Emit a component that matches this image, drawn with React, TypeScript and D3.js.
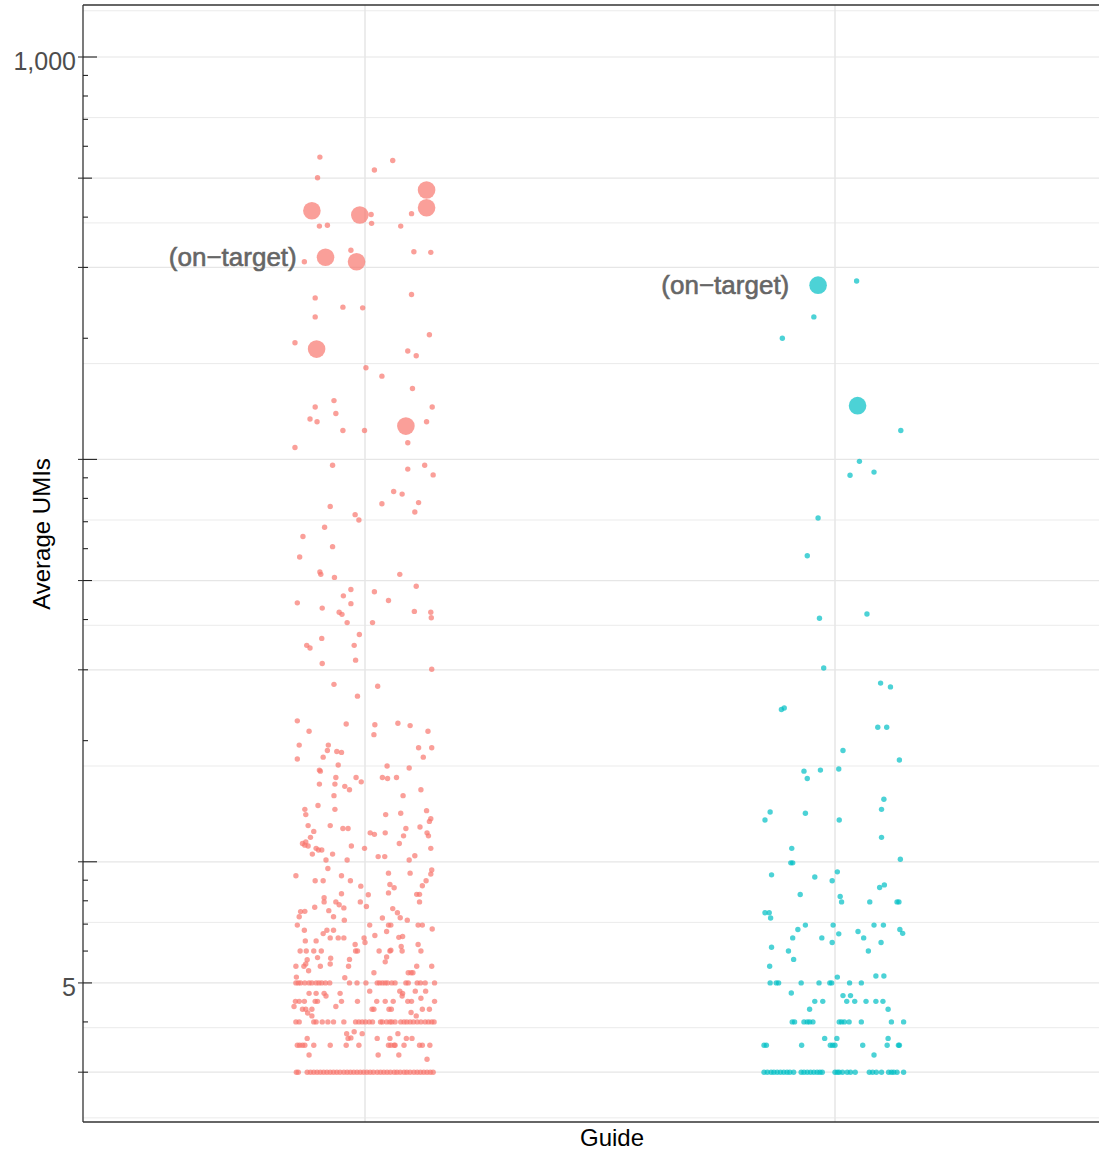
import React from "react";
import * as d3 from "d3";

// ---------- data ----------
const groupColors = ["#F8766D", "#00BFC4"];

const majorBreaks = [3, 5, 10, 30, 50, 100, 300, 500, 1000];
const minorBreaks = [1303, 707, 387, 173, 70.7, 38.7, 17.3, 7.07, 3.87, 2.31];
const labeledTicks = [1000, 5];
const labeledTickText = ["1,000", "5"];
const logTicksLong = [10, 100, 1000];
const logTicksMid = [5, 50, 500];
const logTicksShort = [3, 4, 6, 7, 8, 9, 20, 30, 40, 60, 70, 80, 90, 200, 300, 400, 600, 700, 800, 900];

// [jitter, average UMIs]
const redScatter: [number, number][] = [
  [-0.096, 564], [0.059, 553], [0.020, 524], [-0.101, 501], [0.013, 406], [0.099, 408], [-0.097, 380], [-0.080, 382],
  [0.014, 386], [0.076, 380], [-0.030, 331], [-0.129, 310], [0.104, 328], [0.140, 327], [0.099, 257], [-0.106, 252],
  [-0.047, 239], [-0.005, 238], [-0.106, 226], [0.137, 204], [-0.149, 195], [0.091, 186], [0.109, 181], [0.002, 169],
  [0.036, 161], [0.101, 150], [-0.066, 140], [0.143, 135], [-0.106, 135], [-0.062, 130], [-0.117, 126], [-0.102, 124],
  [0.131, 124], [-0.047, 118], [-0.001, 118], [0.091, 110], [-0.149, 107],
  [-0.069, 96.7], [0.091, 94.6], [0.127, 96.7], [0.145, 91.5], [0.061, 83.2], [0.079, 82.0], [-0.074, 76.4], [0.036, 77.6],
  [0.114, 78.1], [0.106, 74.0], [-0.021, 72.9], [-0.013, 70.7], [-0.086, 67.8], [-0.132, 64.3], [-0.069, 60.7], [-0.139, 57.2],
  [-0.096, 52.5], [-0.094, 51.8], [-0.065, 50.9], [0.074, 51.8], [-0.030, 47.5], [0.020, 46.9], [0.109, 48.4], [-0.046, 45.8],
  [-0.144, 44.0], [-0.030, 43.8], [0.050, 44.6], [-0.091, 42.7], [-0.055, 41.7], [-0.049, 41.2], [0.105, 41.9], [0.140, 41.7],
  [0.141, 40.4], [-0.038, 39.3], [0.016, 39.3], [-0.012, 36.7], [-0.092, 35.9], [-0.124, 34.5], [-0.117, 34.0], [-0.023, 34.5],
  [-0.020, 31.7], [-0.091, 31.1], [0.142, 30.1], [-0.066, 27.6], [0.027, 27.3], [-0.016, 25.8], [-0.144, 22.4], [-0.040, 22.0],
  [0.021, 21.9], [0.070, 22.1], [0.096, 21.8], [-0.119, 21.1], [0.019, 20.7], [0.134, 21.1], [-0.140, 19.5], [-0.078, 19.5],
  [-0.080, 18.9], [-0.060, 18.8], [-0.050, 18.7], [0.114, 19.2], [0.142, 19.2], [-0.089, 18.2], [-0.144, 18.0], [0.124, 18.2],
  [-0.057, 17.4], [0.047, 17.3], [0.094, 17.1], [-0.097, 16.9], [-0.095, 16.8], [-0.062, 16.2], [-0.019, 16.2], [-0.008, 15.8],
  [0.037, 16.2], [0.048, 16.1], [0.067, 16.2], [-0.097, 15.6], [-0.064, 15.6], [-0.043, 15.4], [-0.033, 15.1], [0.119, 15.1],
  [-0.066, 14.6], [0.081, 14.6], [-0.100, 13.8], [-0.128, 13.5], [-0.126, 13.1], [-0.064, 13.5], [0.044, 13.1], [0.076, 13.2],
  [0.131, 13.4], [0.140, 12.8], [0.137, 12.6], [-0.121, 12.3], [-0.074, 12.3], [-0.047, 12.1], [-0.036, 12.1], [0.117, 12.2],
  [-0.109, 11.9], [0.087, 12.1], [0.011, 11.8], [0.020, 11.7], [0.043, 11.8], [0.132, 11.8], [0.135, 11.6], [0.082, 11.6],
  [-0.116, 11.5], [-0.133, 11.1], [-0.126, 11.2], [-0.128, 11.0], [-0.121, 10.95], [0.073, 11.1], [-0.029, 10.95], [-0.104, 10.8],
  [-0.099, 10.7], [-0.092, 10.7], [-0.001, 10.8], [0.140, 10.8], [-0.112, 10.45], [-0.069, 10.45], [0.028, 10.3], [0.042, 10.3],
  [0.106, 10.35], [-0.083, 10.1], [-0.038, 10.1], [0.094, 10.1],
  [-0.079, 9.62], [0.142, 9.54], [0.140, 9.32], [0.050, 9.37], [0.096, 9.37], [-0.147, 9.23], [-0.050, 9.23], [-0.106, 8.97],
  [-0.089, 8.97], [-0.031, 8.97], [0.130, 8.97], [0.053, 8.78], [0.062, 8.62], [0.122, 8.72], [-0.009, 8.70], [-0.050, 8.33],
  [0.007, 8.28], [0.050, 8.37], [0.110, 8.30], [0.116, 8.30], [-0.087, 8.14], [-0.087, 7.95], [-0.062, 7.95], [-0.055, 7.82],
  [-0.045, 7.68], [-0.010, 7.95], [0.116, 7.95], [0.003, 7.74], [-0.107, 7.71], [0.059, 7.65], [0.069, 7.47], [0.075, 7.26],
  [-0.137, 7.52], [-0.128, 7.53], [-0.077, 7.56], [-0.067, 7.30], [-0.140, 7.30], [0.037, 7.25], [-0.044, 7.16], [0.090, 7.16],
  [-0.144, 6.96], [0.010, 6.96], [0.050, 6.96], [0.055, 6.96], [0.113, 6.96], [0.122, 6.96], [0.143, 6.81], [-0.129, 6.76],
  [-0.081, 6.76], [-0.089, 6.63], [-0.067, 6.76], [0.046, 6.71], [0.021, 6.56], [0.072, 6.49], [0.080, 6.52], [-0.074, 6.47],
  [-0.057, 6.47], [-0.045, 6.47], [-0.002, 6.47], [0.000, 6.30], [-0.127, 6.36], [-0.104, 6.36], [-0.021, 6.23], [0.113, 6.23],
  [0.077, 6.16], [0.079, 6.0], [-0.016, 6], [-0.020, 6], [-0.138, 6], [-0.125, 6], [-0.109, 6], [-0.093, 6],
  [0.030, 6], [0.053, 6], [0.055, 6.03], [0.119, 6], [-0.101, 5.78], [-0.073, 5.76], [-0.033, 5.72], [0.046, 5.80],
  [-0.123, 5.71], [0.043, 5.64], [-0.074, 5.57], [-0.126, 5.57], [-0.130, 5.5], [-0.120, 5.36], [-0.147, 5.5], [-0.095, 5.5],
  [-0.035, 5.5], [0.110, 5.5], [0.142, 5.5], [0.092, 5.3], [0.102, 5.3], [0.098, 5.3], [0.019, 5.3], [-0.146, 5.17],
  [-0.043, 5.15],
  [0.010, 4.77], [-0.119, 4.71], [-0.104, 4.71], [-0.087, 4.71], [-0.083, 4.64], [-0.053, 4.71], [0.074, 4.77], [0.079, 4.64],
  [0.080, 4.71], [0.107, 4.77], [0.129, 4.77], [0.119, 4.58], [-0.151, 4.37], [-0.133, 4.30], [-0.126, 4.30], [-0.113, 4.30],
  [-0.062, 4.37], [0.015, 4.30], [0.019, 4.30], [0.051, 4.30], [0.056, 4.30], [0.098, 4.22], [0.122, 4.30], [0.137, 4.30],
  [-0.122, 4.21], [-0.113, 4.14], [0.109, 4.14], [-0.023, 3.78], [-0.039, 3.74], [-0.036, 3.64], [-0.030, 3.65], [-0.006, 3.74],
  [-0.123, 3.64], [0.026, 3.64], [0.053, 3.64], [0.070, 3.74], [0.088, 3.64], [0.100, 3.64], [-0.119, 3.31], [0.028, 3.31],
  [0.072, 3.31], [0.132, 3.23],
];

// rows of points sharing the same average value: [value, jitters]
const redRows: [number, number[]][] = [
  [5, [-0.147, -0.142, -0.137, -0.128, -0.119, -0.113, -0.104, -0.098, -0.092, -0.084, -0.075, -0.033, -0.017, 0.002, 0.026, 0.031, 0.037, 0.043, 0.048, 0.057, 0.064, 0.087, 0.092, 0.111, 0.118, 0.128, 0.148]],
  [4.5, [-0.148, -0.140, -0.129, -0.106, -0.101, -0.050, -0.016, 0.025, 0.043, 0.060, 0.091, 0.099, 0.148]],
  [4, [-0.147, -0.140, -0.109, -0.104, -0.091, -0.079, -0.067, -0.045, -0.020, -0.013, -0.006, 0.001, 0.009, 0.016, 0.033, 0.037, 0.046, 0.053, 0.057, 0.064, 0.076, 0.083, 0.089, 0.096, 0.103, 0.111, 0.119, 0.128, 0.135, 0.142, 0.147]],
  [3.5, [-0.144, -0.139, -0.133, -0.128, -0.109, -0.074, -0.040, -0.013, 0.050, 0.055, 0.062, 0.064, 0.083, 0.116, 0.122, 0.138]],
  [3, [-0.146, -0.142, -0.123, -0.116, -0.109, -0.102, -0.095, -0.088, -0.081, -0.074, -0.067, -0.060, -0.053, -0.045, -0.038, -0.031, -0.024, -0.017, -0.010, -0.003, 0.004, 0.011, 0.018, 0.026, 0.033, 0.040, 0.047, 0.054, 0.062, 0.068, 0.075, 0.083, 0.089, 0.096, 0.104, 0.111, 0.118, 0.125, 0.132, 0.139, 0.145]],
];

const redBig: [number, number][] = [
  [0.131, 467], [-0.113, 415], [0.131, 422], [-0.011, 405], [-0.084, 318], [-0.018, 310], [-0.103, 188], [0.087, 121],
];

const tealScatter: [number, number][] = [
  [0.046, 277.5], [-0.045, 226], [-0.112, 200], [0.140, 118], [0.052, 98.9], [0.032, 91.3], [0.083, 93.0], [-0.036, 71.5],
  [-0.059, 57.6], [0.068, 41.3], [-0.033, 40.3], [-0.024, 30.3], [0.097, 27.8], [0.118, 27.2], [-0.114, 23.9], [-0.108, 24.1],
  [0.091, 21.6], [0.110, 21.6], [0.017, 18.9], [0.137, 17.9], [-0.066, 16.8], [-0.059, 16.1], [-0.031, 16.9], [0.008, 17.0],
  [0.104, 14.3], [0.099, 13.5], [-0.138, 13.3], [-0.149, 12.7], [-0.063, 13.2], [0.009, 12.7], [0.099, 11.5], [-0.092, 10.8],
  [-0.094, 9.94], [-0.090, 9.94], [0.139, 10.15], [-0.135, 9.28], [-0.043, 9.17], [0.005, 9.44], [-0.006, 8.97], [-0.074, 8.29],
  [0.011, 8.20], [0.014, 7.95], [0.074, 7.95], [0.095, 8.63], [0.105, 8.76], [0.132, 7.95], [0.136, 7.95], [-0.149, 7.47],
  [-0.140, 7.47], [-0.137, 7.25], [-0.079, 6.79], [-0.063, 6.96], [-0.004, 6.96], [-0.090, 6.47], [-0.028, 6.47], [0.008, 6.62],
  [0.049, 6.71], [0.061, 6.47], [0.083, 6.96], [0.103, 6.96], [0.138, 6.79], [0.144, 6.64], [-0.006, 6.30], [0.098, 6.30],
  [-0.135, 6.13], [-0.099, 6.0], [-0.088, 5.72], [0.071, 6.0], [-0.139, 5.5], [0.005, 5.17], [0.087, 5.2], [0.104, 5.2],
  [-0.093, 4.72], [0.017, 4.65], [0.033, 4.65], [-0.054, 4.30], [0.113, 4.30], [-0.022, 3.64], [0.004, 3.64], [0.113, 3.64],
  [0.083, 3.31],
];

const tealRows: [number, number[]][] = [
  [5, [-0.138, -0.125, -0.120, -0.072, -0.034, -0.011, -0.007, 0.031, 0.056]],
  [4.5, [-0.043, -0.026, 0.025, 0.042, 0.066, 0.087, 0.102]],
  [4, [-0.091, -0.086, -0.066, -0.059, -0.054, -0.047, 0.009, 0.014, 0.020, 0.030, 0.056, 0.120, 0.146]],
  [3.5, [-0.151, -0.146, -0.071, -0.010, -0.005, 0.000, 0.059, 0.111, 0.135, 0.137]],
  [3, [-0.151, -0.144, -0.136, -0.130, -0.123, -0.116, -0.109, -0.102, -0.096, -0.088, -0.072, -0.066, -0.059, -0.052, -0.045, -0.038, -0.032, -0.027, 0.000, 0.005, 0.009, 0.016, 0.026, 0.033, 0.043, 0.073, 0.080, 0.088, 0.099, 0.114, 0.120, 0.125, 0.132, 0.146]],
];

const tealBig: [number, number][] = [
  [-0.036, 271], [0.048, 136],
];

// label attached to a big point: [group index, index in big array]
const onTargetLabels: [number, number][] = [[0, 4], [1, 0]];
const onTargetText = "(on\u2212target)";

const xTitle = "Guide";
const yTitle = "Average UMIs";

// ---------- layout ----------
const W = 1099;
const H = 1150;
const panel = { left: 83, right: 1117, top: 5, bottom: 1122 };
const FONT = "'Liberation Sans', Arial, Helvetica, sans-serif";

export default function App() {
  const x = d3.scaleLinear().domain([0.4, 2.6]).range([panel.left, panel.right]);
  const y = d3.scaleLog().domain([2.256, 1346.6]).range([panel.bottom, panel.top]);

  const groups = [
    { idx: 1, color: groupColors[0], scatter: redScatter, rows: redRows, big: redBig },
    { idx: 2, color: groupColors[1], scatter: tealScatter, rows: tealRows, big: tealBig },
  ];

  const smallR = 2.7;
  const bigR = 8.8;
  const alpha = 0.7;

  return (
    <svg width={W} height={H} style={{ position: "absolute", left: 0, top: 0, background: "#fff" }} fontFamily={FONT}>
      <defs>
        <clipPath id="panelClip">
          <rect x={panel.left} y={panel.top} width={panel.right - panel.left} height={panel.bottom - panel.top} />
        </clipPath>
      </defs>
      <rect x={0} y={0} width={W} height={H} fill="#fff" />
      <g clipPath="url(#panelClip)">
        {minorBreaks.map((v) => (
          <line key={"mn" + v} x1={panel.left} x2={panel.right} y1={y(v)} y2={y(v)} stroke="#EBEBEB" strokeWidth={1} />
        ))}
        {majorBreaks.map((v) => (
          <line key={"mj" + v} x1={panel.left} x2={panel.right} y1={y(v)} y2={y(v)} stroke="#E6E6E6" strokeWidth={1.2} />
        ))}
        {groups.map((g) => (
          <line key={"vg" + g.idx} x1={x(g.idx)} x2={x(g.idx)} y1={panel.top} y2={panel.bottom} stroke="#E6E6E6" strokeWidth={1.5} />
        ))}
        {groups.map((g) => (
          <g key={"pts" + g.idx} fill={g.color} fillOpacity={alpha}>
            {g.scatter.map(([j, v], i) => (
              <circle key={"s" + i} cx={x(g.idx + j)} cy={y(v)} r={smallR} />
            ))}
            {g.rows.map(([v, js]) =>
              js.map((j, i) => <circle key={"r" + v + "_" + i} cx={x(g.idx + j)} cy={y(v)} r={smallR} />)
            )}
            {g.big.map(([j, v], i) => (
              <circle key={"b" + i} cx={x(g.idx + j)} cy={y(v)} r={bigR} />
            ))}
          </g>
        ))}
      </g>

      {onTargetLabels.map(([gi, bi]) => {
        const g = groups[gi];
        const [j, v] = g.big[bi];
        return (
          <text
            key={"lab" + gi}
            x={x(g.idx + j) - bigR - 20}
            y={y(v)}
            textAnchor="end"
            dominantBaseline="central"
            fontSize={26}
            fill="#666666"
            stroke="#666666"
            strokeWidth={0.6}
          >
            {onTargetText}
          </text>
        );
      })}

      {/* panel border / axes */}
      <line x1={panel.left} x2={panel.right} y1={panel.top} y2={panel.top} stroke="#333" strokeWidth={1.3} />
      <line x1={panel.left} x2={panel.right} y1={panel.bottom} y2={panel.bottom} stroke="#333" strokeWidth={1.3} />
      <line x1={panel.left} x2={panel.left} y1={panel.top} y2={panel.bottom} stroke="#333" strokeWidth={1.3} />

      {/* outward axis ticks */}
      {majorBreaks.map((v) => (
        <line key={"ot" + v} x1={panel.left - 5} x2={panel.left} y1={y(v)} y2={y(v)} stroke="#333" strokeWidth={1.1} />
      ))}
      {/* log ticks inside */}
      {logTicksLong.map((v) => (
        <line key={"lt" + v} x1={panel.left} x2={panel.left + 14} y1={y(v)} y2={y(v)} stroke="#222" strokeWidth={1.1} />
      ))}
      {logTicksMid.map((v) => (
        <line key={"lm" + v} x1={panel.left} x2={panel.left + 9} y1={y(v)} y2={y(v)} stroke="#222" strokeWidth={1.1} />
      ))}
      {logTicksShort.map((v) => (
        <line key={"ls" + v} x1={panel.left} x2={panel.left + 5} y1={y(v)} y2={y(v)} stroke="#222" strokeWidth={1.1} />
      ))}

      {labeledTicks.map((v, i) => (
        <text key={"tl" + v} x={panel.left - 7} y={y(v) + 4} textAnchor="end" dominantBaseline="central" fontSize={25} fill="#4D4D4D">
          {labeledTickText[i]}
        </text>
      ))}

      <text
        transform={`translate(41, 534) rotate(-90)`}
        textAnchor="middle"
        dominantBaseline="central"
        fontSize={24}
        fill="#000"
      >
        {yTitle}
      </text>
      <text x={612} y={1146} textAnchor="middle" fontSize={24} fill="#000">
        {xTitle}
      </text>
    </svg>
  );
}
